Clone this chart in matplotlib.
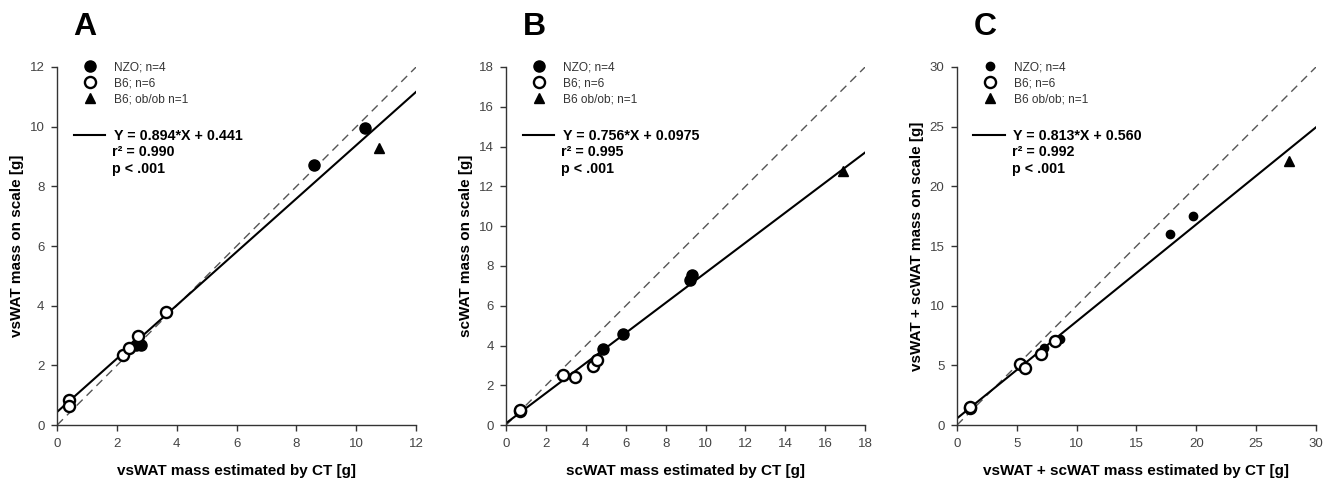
import numpy as np
import matplotlib.pyplot as plt
from matplotlib.lines import Line2D

plt.rcParams['font.family'] = ['Liberation Sans', 'DejaVu Sans']

# Panel A: vsWAT
a_nzo_x = [10.3, 8.6, 2.8, 2.65]
a_nzo_y = [9.95, 8.72, 2.68, 2.68]
a_b6_x = [0.4, 0.4, 2.2, 2.4, 2.7, 3.65]
a_b6_y = [0.85, 0.65, 2.35, 2.6, 2.98, 3.8]
a_ob_x = [10.75]
a_ob_y = [9.3]

# Panel B: scWAT
b_nzo_x = [9.3, 9.2, 5.85, 4.85]
b_nzo_y = [7.55, 7.3, 4.58, 3.85]
b_b6_x = [0.7, 0.72, 2.85, 3.45, 4.35, 4.55]
b_b6_y = [0.72, 0.76, 2.5, 2.42, 2.98, 3.25]
b_ob_x = [16.9]
b_ob_y = [12.75]

# Panel C: vsWAT + scWAT
c_nzo_x = [19.7, 17.8, 8.6, 7.3]
c_nzo_y = [17.5, 16.05, 7.25, 6.5]
c_b6_x = [1.05, 1.1, 5.25, 5.65, 7.05, 8.2]
c_b6_y = [1.45, 1.5, 5.1, 4.75, 5.95, 7.05]
c_ob_x = [27.7]
c_ob_y = [22.1]

slopes = [0.894, 0.756, 0.813]
intercepts = [0.441, 0.0975, 0.560]
eq_labels = ['Y = 0.894*X + 0.441', 'Y = 0.756*X + 0.0975', 'Y = 0.813*X + 0.560']
r2_labels = ['r² = 0.990', 'r² = 0.995', 'r² = 0.992']
limits = [12, 18, 30]
tick_steps = [2, 2, 5]
legend_names = [['NZO; n=4', 'B6; n=6', 'B6; ob/ob n=1'],
                ['NZO; n=4', 'B6; n=6', 'B6 ob/ob; n=1'],
                ['NZO; n=4', 'B6; n=6', 'B6 ob/ob; n=1']]
xlabels = ['vsWAT mass estimated by CT [g]', 'scWAT mass estimated by CT [g]',
           'vsWAT + scWAT mass estimated by CT [g]']
ylabels = ['vsWAT mass on scale [g]', 'scWAT mass on scale [g]',
           'vsWAT + scWAT mass on scale [g]']
letters = ['A', 'B', 'C']
nzo_sizes = [8, 8, 6]

data = [(a_nzo_x, a_nzo_y, a_b6_x, a_b6_y, a_ob_x, a_ob_y),
        (b_nzo_x, b_nzo_y, b_b6_x, b_b6_y, b_ob_x, b_ob_y),
        (c_nzo_x, c_nzo_y, c_b6_x, c_b6_y, c_ob_x, c_ob_y)]

fig = plt.figure(figsize=(13.3, 4.82), dpi=100)
lefts = [0.0429, 0.3805, 0.7195]
tick_col = '#444444'

for i in range(3):
    ax = fig.add_axes([lefts[i], 0.118, 0.27, 0.743])
    nx, ny, bx, by, ox, oy = data[i]
    lim = limits[i]

    # identity line and regression line
    xs = np.array([0, lim])
    ax.plot(xs, xs, ls=(0, (6, 4)), color='#555555', lw=1)
    ax.plot(xs, slopes[i] * xs + intercepts[i], color='black', lw=1.5)

    ax.plot(nx, ny, 'o', color='black', ms=nzo_sizes[i], ls='none')
    ax.plot(bx, by, 'o', mfc='white', mec='black', mew=1.7, ms=8, ls='none')
    ax.plot(ox, oy, '^', color='black', ms=7.5, ls='none')

    ax.set_xlim(0, lim)
    ax.set_ylim(0, lim)
    ticks = np.arange(0, lim + 0.1, tick_steps[i])
    ax.set_xticks(ticks)
    ax.set_yticks(ticks)
    ax.spines['top'].set_visible(False)
    ax.spines['right'].set_visible(False)
    for s in ['left', 'bottom']:
        ax.spines[s].set_color('#333333')
        ax.spines[s].set_linewidth(1)
    ax.tick_params(direction='out', length=4, width=1, color='#333333',
                   labelsize=9.5, labelcolor=tick_col, pad=5)
    ax.set_xlabel(xlabels[i], fontsize=11, fontweight='bold', labelpad=10)
    ax.set_ylabel(ylabels[i], fontsize=11, fontweight='bold', labelpad=4)

    # legend of groups
    handles = [Line2D([], [], marker='o', color='black', ls='none', ms=nzo_sizes[i]),
               Line2D([], [], marker='o', mfc='white', mec='black', mew=1.7, ls='none', ms=8),
               Line2D([], [], marker='^', color='black', ls='none', ms=7.5)]
    leg1 = ax.legend(handles, legend_names[i], loc='upper left', bbox_to_anchor=(0.045, 1.03),
                     frameon=False, fontsize=8.6, handletextpad=1.0, labelspacing=0.35,
                     borderaxespad=0)
    for t in leg1.get_texts():
        t.set_color('#333333')
    ax.add_artist(leg1)

    # regression legend
    leg2 = ax.legend([Line2D([], [], color='black', lw=1.5)], [eq_labels[i]],
                     loc='upper left', bbox_to_anchor=(0.03, 0.842), frameon=False,
                     prop={'size': 10.3, 'weight': 'bold'}, handlelength=2.2,
                     handletextpad=0.6, borderaxespad=0)
    ax.text(0.153, 0.762, r2_labels[i], transform=ax.transAxes,
            fontsize=10.3, fontweight='bold', va='center', ha='left')
    ax.text(0.153, 0.716, 'p < .001', transform=ax.transAxes,
            fontsize=10.3, fontweight='bold', va='center', ha='left')

    fig.text(lefts[i] + 0.021, 0.945, letters[i], fontsize=23, fontweight='bold',
             ha='center', va='center')

fig.savefig('out.png', dpi=100)
